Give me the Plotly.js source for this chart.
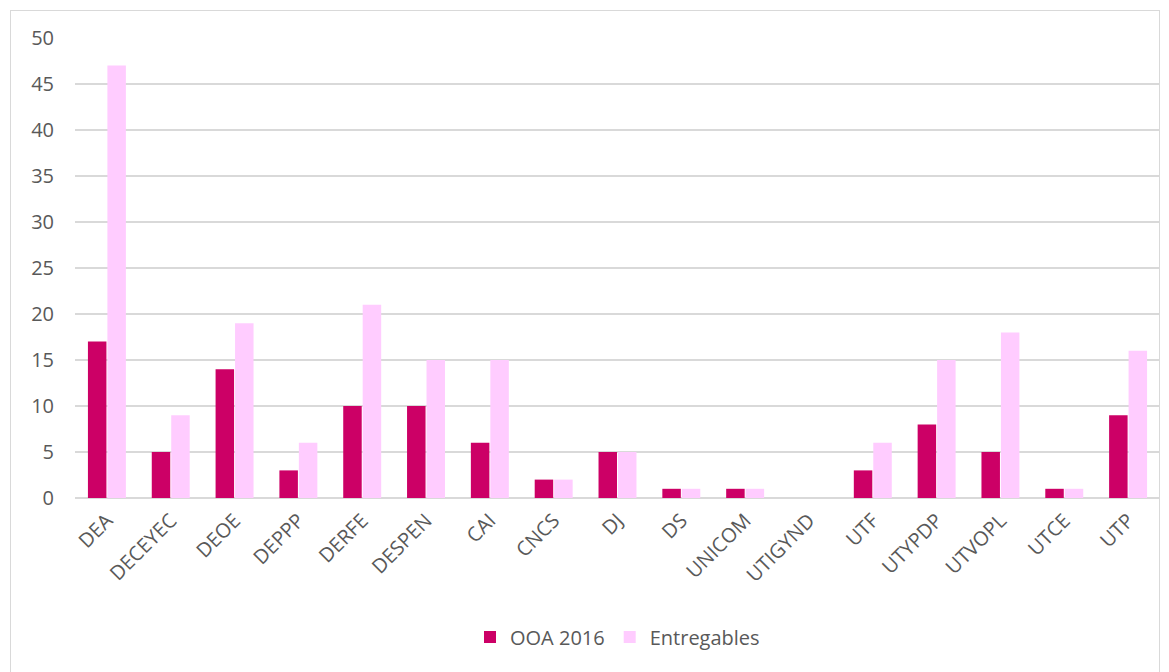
<!DOCTYPE html>
<html><head><meta charset="utf-8">
<script src="https://cdn.plot.ly/plotly-3.0.1.min.js"></script>
<style>
html,body{margin:0;padding:0;background:#fff;}
#frame{position:absolute;left:10px;top:10px;width:1150px;height:680px;border:1px solid #D9D9D9;box-sizing:border-box;}
#chart{position:absolute;left:0;top:0;width:1169px;height:672px;}
</style></head>
<body>
<div id="frame"></div>
<div id="chart"></div>
<script>
var categories = ["DEA","DECEYEC","DEOE","DEPPP","DERFE","DESPEN","CAI","CNCS","DJ","DS","UNICOM","UTIGYND","UTF","UTYPDP","UTVOPL","UTCE","UTP"];
var ooa2016 = [17,5,14,3,10,10,6,2,5,1,1,0,3,8,5,1,9];
var entregables = [47,9,19,6,21,15,15,2,5,1,1,0,6,15,18,1,16];
var seriesNames = ["OOA 2016","Entregables"];

var data = [
  {type:"bar", x:categories, y:ooa2016, name:seriesNames[0], marker:{color:"#CC0066"}},
  {type:"bar", x:categories, y:entregables, name:seriesNames[1], marker:{color:"#FFCCFF"}}
];
var layout = {
  width:1169, height:672,
  paper_bgcolor:"rgba(0,0,0,0)", plot_bgcolor:"rgba(0,0,0,0)",
  margin:{l:75, r:9, t:38, b:174, autoexpand:false},
  barmode:"group", bargap:0.39, bargroupgap:0.05,
  font:{family:"Open Sans, Liberation Sans, sans-serif", color:"#595959", size:20},
  xaxis:{tickangle:-45, showgrid:false, zeroline:false, showline:false, ticks:"", tickfont:{size:20}, ticklabelstandoff:6, automargin:false},
  yaxis:{range:[0,50], dtick:5, showgrid:true, gridcolor:"#D9D9D9", gridwidth:1.5, zeroline:true, zerolinecolor:"#D9D9D9", zerolinewidth:1.5, showline:false, ticks:"", ticklabelstandoff:20, tickfont:{size:20}, automargin:false},
  showlegend:true,
  legend:{orientation:"h", x:0.5, xanchor:"center", y:-0.302, yanchor:"middle", font:{size:20}, itemwidth:30, traceorder:"normal"}
};
Plotly.newPlot("chart", data, layout, {displayModeBar:false});
</script>
</body></html>
